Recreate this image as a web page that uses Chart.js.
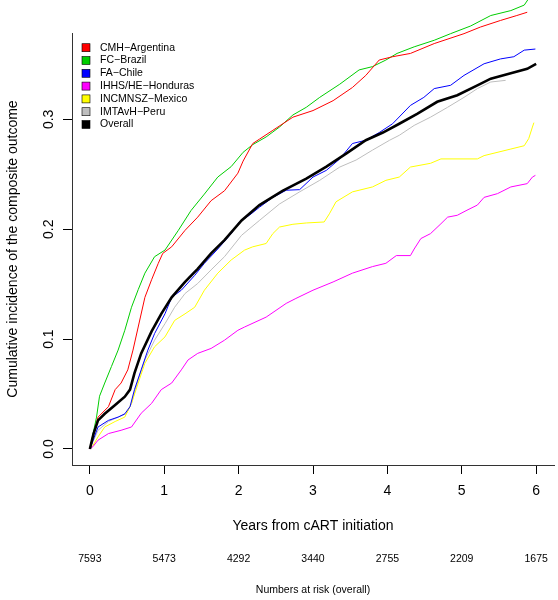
<!DOCTYPE html>
<html>
<head>
<meta charset="utf-8">
<script src="https://cdn.jsdelivr.net/npm/chart.js@4"></script>
<style>
  body { margin: 0; background: #fff; }
  canvas { display: block; }
</style>
</head>
<body>
<canvas id="chart" width="558" height="600"></canvas>
<script>
// cumulative incidence curves (years, incidence)
const argentinaT = [0, 0.11, 0.25, 0.34, 0.42, 0.51, 0.58, 0.65, 0.74, 0.83, 0.92, 0.98, 1.10, 1.28, 1.45, 1.63, 1.81, 1.99, 2.06, 2.19, 2.28, 2.46, 2.73, 3.0, 3.27, 3.53, 3.71, 3.89, 4.07, 4.31, 4.63, 5.03, 5.25, 5.52, 5.74, 5.88];
const argentinaY = [0, 0.029, 0.0385, 0.054, 0.06, 0.072, 0.09, 0.111, 0.138, 0.154, 0.169, 0.178, 0.184, 0.199, 0.211, 0.226, 0.235, 0.251, 0.262, 0.278, 0.282, 0.29, 0.302, 0.308, 0.317, 0.329, 0.34, 0.354, 0.357, 0.36, 0.369, 0.378, 0.384, 0.39, 0.3945, 0.3975];

const brazilT = [0, 0.09, 0.13, 0.2, 0.29, 0.38, 0.47, 0.56, 0.65, 0.74, 0.87, 1.01, 1.19, 1.36, 1.54, 1.72, 1.90, 2.06, 2.19, 2.37, 2.55, 2.73, 2.91, 3.09, 3.36, 3.62, 3.80, 3.98, 4.13, 4.36, 4.63, 4.85, 5.12, 5.39, 5.66, 5.84, 5.9];
const brazilY = [0, 0.029, 0.048, 0.06, 0.075, 0.09, 0.108, 0.129, 0.145, 0.16, 0.175, 0.181, 0.199, 0.217, 0.232, 0.2475, 0.257, 0.27, 0.277, 0.284, 0.293, 0.304, 0.311, 0.32, 0.332, 0.345, 0.348, 0.354, 0.36, 0.366, 0.372, 0.378, 0.385, 0.3945, 0.399, 0.404, 0.41];

const chileT = [0, 0.11, 0.25, 0.38, 0.47, 0.54, 0.6, 0.69, 0.78, 0.87, 1.01, 1.10, 1.23, 1.41, 1.54, 1.72, 1.9, 2.01, 2.15, 2.28, 2.46, 2.64, 2.82, 3.0, 3.18, 3.36, 3.53, 3.71, 3.89, 4.07, 4.31, 4.49, 4.63, 4.85, 5.03, 5.30, 5.52, 5.70, 5.84, 5.99];
const chileY = [0, 0.02, 0.026, 0.029, 0.032, 0.0385, 0.054, 0.072, 0.09, 0.105, 0.123, 0.138, 0.1445, 0.158, 0.169, 0.182, 0.196, 0.2066, 0.213, 0.22, 0.229, 0.2355, 0.236, 0.2475, 0.2536, 0.264, 0.278, 0.281, 0.288, 0.296, 0.3127, 0.32, 0.328, 0.331, 0.34, 0.3506, 0.355, 0.357, 0.363, 0.364];

const hondurasT = [0, 0.04, 0.11, 0.25, 0.42, 0.56, 0.69, 0.83, 0.96, 1.10, 1.23, 1.32, 1.45, 1.63, 1.81, 1.99, 2.08, 2.37, 2.64, 2.77, 3.0, 3.27, 3.53, 3.80, 3.98, 4.12, 4.31, 4.36, 4.45, 4.58, 4.72, 4.81, 4.94, 5.07, 5.21, 5.30, 5.48, 5.66, 5.88, 5.95, 5.99];
const hondurasY = [0, 0.002, 0.008, 0.014, 0.017, 0.02, 0.0325, 0.0415, 0.054, 0.06, 0.072, 0.081, 0.087, 0.0915, 0.099, 0.108, 0.111, 0.12, 0.1325, 0.137, 0.1445, 0.152, 0.16, 0.166, 0.169, 0.176, 0.176, 0.182, 0.1915, 0.196, 0.205, 0.211, 0.2127, 0.2173, 0.222, 0.229, 0.2324, 0.2385, 0.2415, 0.2475, 0.249];

const mexicoT = [0, 0.04, 0.11, 0.2, 0.34, 0.47, 0.56, 0.65, 0.74, 0.87, 1.01, 1.14, 1.28, 1.41, 1.54, 1.72, 1.90, 2.08, 2.19, 2.37, 2.46, 2.55, 2.73, 2.91, 3.15, 3.22, 3.31, 3.53, 3.80, 3.98, 4.16, 4.31, 4.58, 4.72, 5.21, 5.30, 5.66, 5.84, 5.90, 5.95, 5.97];
const mexicoY = [0, 0.003, 0.011, 0.02, 0.025, 0.029, 0.0415, 0.06, 0.078, 0.093, 0.102, 0.117, 0.123, 0.129, 0.1445, 0.16, 0.172, 0.181, 0.184, 0.187, 0.196, 0.202, 0.2045, 0.2057, 0.2066, 0.214, 0.225, 0.234, 0.2385, 0.2445, 0.2475, 0.2566, 0.26, 0.264, 0.264, 0.267, 0.273, 0.276, 0.2825, 0.293, 0.297];

const peruT = [0, 0.11, 0.25, 0.38, 0.49, 0.56, 0.65, 0.74, 0.87, 1.01, 1.14, 1.28, 1.45, 1.63, 1.81, 2.04, 2.28, 2.55, 2.82, 3.09, 3.36, 3.58, 3.80, 4.03, 4.16, 4.36, 4.58, 4.81, 5.03, 5.21, 5.39, 5.59];
const peruY = [0, 0.017, 0.025, 0.029, 0.032, 0.0415, 0.063, 0.081, 0.099, 0.114, 0.129, 0.1415, 0.1506, 0.163, 0.175, 0.1945, 0.208, 0.223, 0.234, 0.2445, 0.2566, 0.263, 0.272, 0.281, 0.2855, 0.2945, 0.302, 0.311, 0.32, 0.328, 0.334, 0.3355];

const overallT = [0, 0.05, 0.11, 0.2, 0.34, 0.47, 0.54, 0.6, 0.69, 0.83, 0.96, 1.10, 1.28, 1.45, 1.63, 1.81, 2.04, 2.28, 2.59, 2.91, 3.18, 3.45, 3.71, 3.94, 4.16, 4.40, 4.67, 4.94, 5.21, 5.39, 5.61, 5.88, 6.0];
const overallY = [0, 0.014, 0.026, 0.032, 0.040, 0.0476, 0.054, 0.069, 0.087, 0.107, 0.123, 0.138, 0.152, 0.164, 0.178, 0.19, 0.208, 0.222, 0.235, 0.246, 0.257, 0.269, 0.281, 0.288, 0.296, 0.305, 0.316, 0.322, 0.331, 0.337, 0.341, 0.346, 0.3506];

const xTicks = [0, 1, 2, 3, 4, 5, 6];
const yTicks = [0, 0.1, 0.2, 0.3];
const atRisk = [7593, 5473, 4292, 3440, 2755, 2209, 1675];

const FONT = "'Liberation Sans', Arial, sans-serif";

function pts(t, y) {
    return t.map((v, i) => ({ x: v, y: y[i] }));
}

function series(label, t, y, color, width, order) {
    return {
        label, data: pts(t, y), borderColor: color, backgroundColor: color,
        borderWidth: width, pointRadius: 0, tension: 0, fill: false, clip: false, order
    };
}

// legend in the top-left corner of the plot, R style
const legendBox = {
    id: "legendBox",
    afterDraw(chart) {
        const ctx = chart.ctx;
        ctx.save();
        ctx.font = "10.5px " + FONT;
        ctx.textBaseline = "middle";
        ctx.textAlign = "left";
        chart.data.datasets.forEach((ds, i) => {
            const y = 47.7 + i * 12.8;
            ctx.fillStyle = ds.borderColor;
            ctx.fillRect(82, y - 4, 8, 8);
            ctx.strokeStyle = "#000";
            ctx.lineWidth = 0.6;
            ctx.strokeRect(82, y - 4, 8, 8);
            ctx.fillStyle = "#000";
            ctx.fillText(ds.label, 100, y);
        });
        ctx.restore();
    }
};

// rotated y tick labels, numbers at risk and caption
const extras = {
    id: "extras",
    afterDraw(chart) {
        const ctx = chart.ctx;
        const xs = chart.scales.x;
        const ys = chart.scales.y;
        ctx.save();
        ctx.fillStyle = "#000";
        ctx.font = "14px " + FONT;
        ctx.textAlign = "center";
        ctx.textBaseline = "alphabetic";
        yTicks.forEach((v) => {
            ctx.save();
            ctx.translate(52.5, ys.getPixelForValue(v));
            ctx.rotate(-Math.PI / 2);
            ctx.fillText(v.toFixed(1), 0, 0);
            ctx.restore();
        });
        ctx.font = "10.5px " + FONT;
        ctx.textBaseline = "middle";
        atRisk.forEach((n, i) => {
            ctx.fillText(String(n), xs.getPixelForValue(xTicks[i]), 559);
        });
        ctx.fillText("Numbers at risk (overall)", (chart.chartArea.left + chart.chartArea.right) / 2, 590);
        ctx.restore();
    }
};

new Chart(document.getElementById("chart"), {
    type: "line",
    data: {
        datasets: [
            series("CMH\u2212Argentina", argentinaT, argentinaY, "#ff0000", 1, 1),
            series("FC\u2212Brazil", brazilT, brazilY, "#00cd00", 1, 2),
            series("FA\u2212Chile", chileT, chileY, "#0000ff", 1, 3),
            series("IHHS/HE\u2212Honduras", hondurasT, hondurasY, "#ff00ff", 1, 4),
            series("INCMNSZ\u2212Mexico", mexicoT, mexicoY, "#ffff00", 1, 5),
            series("IMTAvH\u2212Peru", peruT, peruY, "#bebebe", 1, 6),
            series("Overall", overallT, overallY, "#000000", 2.6, 0)
        ]
    },
    options: {
        responsive: false,
        animation: false,
        layout: { padding: { top: 33, right: 4, left: 0, bottom: 0 } },
        plugins: { legend: { display: false }, tooltip: { enabled: false } },
        scales: {
            x: {
                type: "linear",
                min: -0.24,
                max: 6.24,
                afterBuildTicks: (s) => { s.ticks = xTicks.map((v) => ({ value: v })); },
                afterFit: (s) => { s.height = 135; },
                grid: { drawOnChartArea: false, drawTicks: true, tickLength: 9, color: "#000" },
                border: { display: true, color: "#333", width: 1 },
                ticks: { color: "#000", font: { family: FONT, size: 14 }, padding: 9, maxRotation: 0 },
                title: { display: true, text: "Years from cART initiation", color: "#000", font: { family: FONT, size: 14 }, padding: { top: 0, bottom: 65.6 } }
            },
            y: {
                min: -0.0146,
                max: 0.3786,
                afterBuildTicks: (s) => { s.ticks = yTicks.map((v) => ({ value: v })); },
                afterFit: (s) => { s.width = 72; },
                grid: { drawOnChartArea: false, drawTicks: true, tickLength: 9, color: "#000" },
                border: { display: true, color: "#333", width: 1 },
                ticks: { display: false },
                title: { display: true, text: "Cumulative incidence of the composite outcome", color: "#000", font: { family: FONT, size: 14 }, padding: { top: 4.6, bottom: 0 } }
            }
        }
    },
    plugins: [legendBox, extras]
});
</script>
</body>
</html>
